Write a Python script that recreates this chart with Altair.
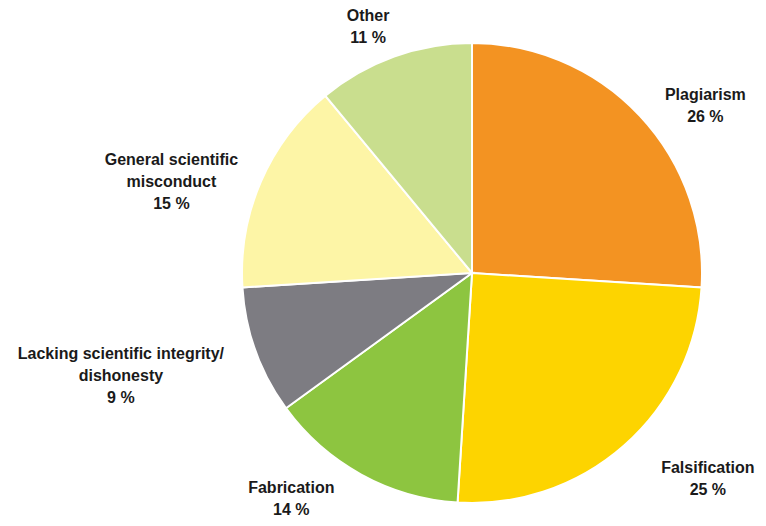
import altair as alt
import pandas as pd

# Data (clockwise from 12 o'clock)
categories = [
    "Plagiarism",
    "Falsification",
    "Fabrication",
    "Lacking scientific integrity/\ndishonesty",
    "General scientific\nmisconduct",
    "Other",
]
shares = [26, 25, 14, 9, 15, 11]

# Styling
colors = ["#F39322", "#FDD400", "#8DC540", "#7D7C82", "#FDF5A6", "#C9DE8E"]
label_radius = [287, 313, 289, 366, 314, 267]        # px from pie centre to label block centre
label_nudge_deg = [7.6, -7.5, 9.9, 3.4, -6.6, -3.1]  # angular offset of label from slice middle

df = pd.DataFrame({
    "idx": list(range(len(categories))),
    "category": categories,
    "value": shares,
    "label": [f"{c}\n{v} %" for c, v in zip(categories, shares)],
    "lr": label_radius,
    "nudge": label_nudge_deg,
})
df["nlines"] = df["label"].str.count("\n") + 1

CX, CY, R = 464, 265, 230
LH = 22

base = alt.Chart(df)

pie = base.mark_arc(radius=R, stroke="white", strokeWidth=2).encode(
    theta=alt.Theta("value:Q", stack=True),
    color=alt.Color("category:N",
                    scale=alt.Scale(domain=categories, range=colors),
                    legend=None),
    order=alt.Order("idx:Q"),
    x=alt.value(CX),
    y=alt.value(CY),
)

labels = base.transform_window(
    cum="sum(value)",
    sort=[alt.SortField("idx")],
    frame=[None, 0],
).transform_calculate(
    ang="((datum.cum - datum.value / 2) / 100 * 360 + datum.nudge) * PI / 180"
).transform_calculate(
    px=f"{CX} + datum.lr * sin(datum.ang)",
    py=f"{CY} - datum.lr * cos(datum.ang) - (datum.nlines - 1) * {LH} / 2",
).mark_text(
    lineBreak="\n",
    font="Liberation Sans",
    fontWeight="bold",
    fontSize=16,
    lineHeight=LH,
    align="center",
    baseline="middle",
    color="#1a1a1a",
).encode(
    x=alt.X("px:Q", scale=None),
    y=alt.Y("py:Q", scale=None),
    text="label:N",
)

chart = alt.layer(pie, labels).properties(
    width=750,
    height=510,
    autosize=alt.AutoSizeParams(type="none"),
    padding=0,
).configure_view(stroke=None)

chart.save("out.html", embed_options={"renderer": "svg", "actions": False})
